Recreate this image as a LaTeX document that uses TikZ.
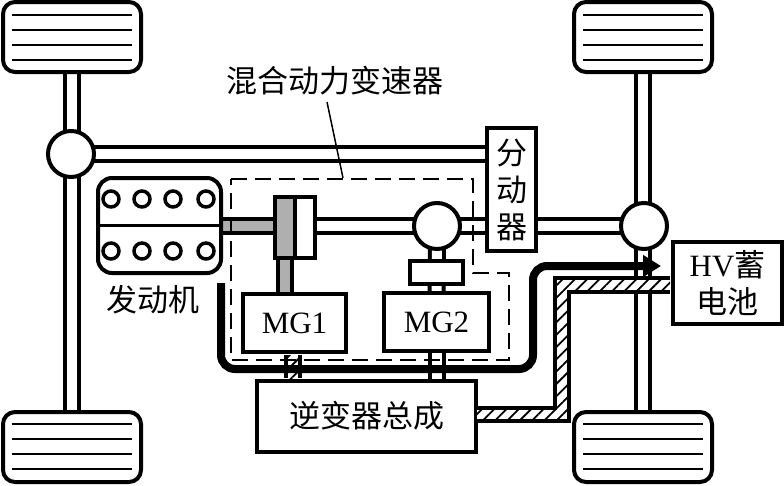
\documentclass[tikz,border=0pt]{standalone}
\usepackage{fontspec}
\setmainfont{Liberation Serif}
\newfontfamily\cjk{Noto Sans CJK SC}
\usetikzlibrary{arrows.meta,calc,backgrounds,patterns.meta}
\definecolor{shaftgray}{RGB}{175,175,175}
\begin{document}
\begin{tikzpicture}[x=1pt,y=-1pt,>=Latex,
  every node/.style={inner sep=0pt,outer sep=0pt},
  label/.style={font=\fontsize{31}{37}\selectfont,align=center},
  box/.style={draw=black,line width=4pt,fill=white,label},
  wheel/.style={box,rounded corners=12pt,minimum width=138pt,minimum height=70pt},
  hub/.style={draw=black,line width=4pt,fill=white,circle,minimum size=46pt},
  cyl/.style={draw=black,line width=3.5pt,fill=white,circle,minimum size=16pt},
  shaft/.style={draw=black,line width=4pt,double=white,double distance=10pt},
  hatchband/.style={pattern={Lines[angle=45,distance=8.7pt,line width=1.8pt]}},
  power/.style={line width=8pt,rounded corners=14pt,-{Triangle[length=18pt,width=21pt]}}]
\useasboundingbox (0,0) rectangle (784,485);
% ---------- 车轮与差速器 ----------
\node[wheel] (wheelLT) at (72,37) {};
\node[wheel] (wheelRT) at (643,37) {};
\node[wheel] (wheelLB) at (72,447) {};
\node[wheel] (wheelRB) at (643,447) {};
\foreach \w/\off in {wheelLT/0,wheelRT/0,wheelLB/-1,wheelRB/-1}{
  \foreach \dy in {-22,-7,8,23}{
    \draw[line width=2pt] ($(\w.center)+(-60,\dy+\off)$) -- ($(\w.center)+(60,\dy+\off)$);
  }
}
\node[hub] (hubL) at (71,154) {};
\node[hub] (hubR) at (644,226) {};
\node[hub] (hubM) at (437,226) {};
% ---------- 发动机 ----------
\node[box,rounded corners=14pt,minimum width=123pt,minimum height=95pt] (engine) at (159.5,225.5) {};
\draw[line width=3.5pt] (engine.west) -- (engine.east);
\foreach \x in {111,142,173,206}{
  \foreach \y in {199,251}{
    \node[cyl] (cyl\x\y) at (\x,\y) {};
  }
}
\node[label] (enginetxt) at (153,300) {\cjk 发动机};
% ---------- 变速器内部 ----------
\node[box,fill=shaftgray,minimum width=20pt,minimum height=61pt] (planetA) at (285,227.5) {};
\node[box,minimum width=20pt,minimum height=61pt] (planetB) at (305,227.5) {};
\node[box,minimum width=103pt,minimum height=58pt] (mgone) at (294.5,323) {MG1};
\node[box,minimum width=105pt,minimum height=58pt] (mgtwo) at (436.5,322) {MG2};
\node[box,minimum width=53pt,minimum height=23pt] (reducer) at (436.5,272.5) {};
\node[box,minimum width=49pt,minimum height=123pt] (transfer) at (511.5,189.5) {\cjk 分\\\cjk 动\\\cjk 器};
\node[box,minimum width=219pt,minimum height=71pt] (inverter) at (366.5,416) {\cjk 逆变器总成};
\node[box,minimum width=109pt,minimum height=82pt] (battery) at (727.5,283) {HV\cjk 蓄\\\cjk 电池};
\node[label] (hybridtxt) at (335,81) {\cjk 混合动力变速器};
\begin{scope}[on background layer]
  % 轴
  \draw[shaft] (wheelLT.center) -- (wheelLB.center);
  \draw[shaft] (wheelRT.center) -- (wheelRB.center);
  \draw[shaft] (hubL.center) -- (hubL.center -| transfer.center);
  \draw[shaft] (planetB.center |- hubR.center) -- (hubR.center);
  \draw[shaft] (hubM.center) -- (mgtwo.center);
  \draw[shaft] (mgtwo.center) -- (mgtwo.center |- inverter.center);
  \draw[shaft,double=shaftgray] (engine.center |- hubR.center) -- (planetA.center |- hubR.center);
  \draw[shaft,double=shaftgray] (planetA.center) -- (planetA.center |- mgone.center);
\end{scope}
% MG1 与逆变器之间
\fill[hatchband] (286,355) rectangle (300,378);
\draw[line width=3.5pt] (286,355) -- (286,378);
\draw[line width=3.5pt] (300,355) -- (300,378);
% 高压电路
\coordinate (bandA) at (477,408);
\coordinate (bandB) at (555,408);
\coordinate (bandC) at (555,278);
\coordinate (bandD) at (670,278);
\coordinate (bandE) at (670,292);
\coordinate (bandF) at (569,292);
\coordinate (bandG) at (569,421);
\coordinate (bandH) at (477,421);
\fill[white] (bandA) -- (bandB) -- (bandC) -- (bandD) -- (bandE) -- (bandF) -- (bandG) -- (bandH) -- cycle;
\fill[hatchband] (bandA) -- (bandB) -- (bandC) -- (bandD) -- (bandE) -- (bandF) -- (bandG) -- (bandH) -- cycle;
\draw[line width=3.5pt] (bandA) -- (bandB) -- (bandC) -- (bandD);
\draw[line width=3.5pt] (bandH) -- (bandG) -- (bandF) -- (bandE);
% 虚线框
\draw[line width=1.5pt,dash pattern=on 16pt off 8pt]
  (231,179) -- (473,179) -- (473,273) -- (509,273) -- (509,360) -- (231,360) -- cycle;
\coordinate (leaderstart) at (327,102);
\coordinate (leaderend) at (343,178);
\draw[line width=1.5pt] (leaderstart) -- (leaderend);
% 功率流
\coordinate (powerstart) at (221,283);
\coordinate (powerend) at (661,266);
\draw[power] (powerstart) -- (221,369) -- (533,369) -- (533,266) -- (powerend);
\end{tikzpicture}
\end{document}
